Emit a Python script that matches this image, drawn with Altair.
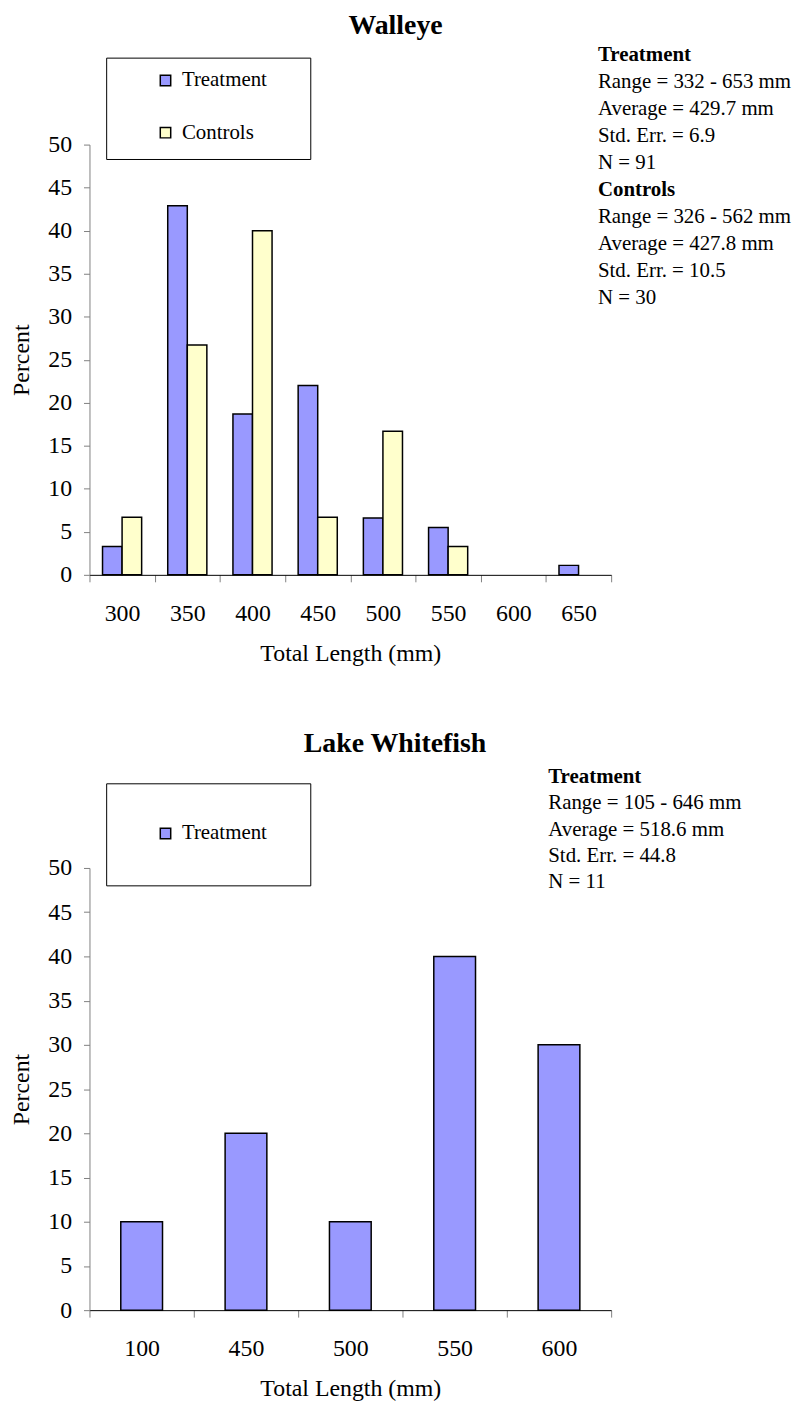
import altair as alt
import pandas as pd

FONT = "Liberation Serif"

# ---------------- data ----------------
walleye_bins = ["300", "350", "400", "450", "500", "550", "600", "650"]
walleye_series = ["Treatment", "Controls"]
walleye_treatment = [3.3, 42.9, 18.7, 22.0, 6.6, 5.5, 0.0, 1.1]
walleye_controls = [6.7, 26.7, 40.0, 6.7, 16.7, 3.3, 0.0, 0.0]
walleye_colors = ["#9999FF", "#FFFFCC"]
walleye_stats = [
    ("Treatment", ["Range = 332 - 653 mm", "Average = 429.7 mm", "Std. Err. = 6.9", "N = 91"]),
    ("Controls", ["Range = 326 - 562 mm", "Average = 427.8 mm", "Std. Err. = 10.5", "N = 30"]),
]

whitefish_bins = ["100", "450", "500", "550", "600"]
whitefish_series = ["Treatment"]
whitefish_treatment = [10, 20, 10, 40, 30]
whitefish_colors = ["#9999FF"]
whitefish_stats = [
    ("Treatment", ["Range = 105 - 646 mm", "Average = 518.6 mm", "Std. Err. = 44.8", "N = 11"]),
]

y_ticks = [0, 5, 10, 15, 20, 25, 30, 35, 40, 45, 50]

PLOT_W = 525


def long_table(bins, series, values):
    rows = []
    for s, vals in zip(series, values):
        for b, v in zip(bins, vals):
            rows.append({"bin": b, "series": s, "value": v})
    return pd.DataFrame(rows)


one = pd.DataFrame({"k": [0]})


def panel(title, bins, series, values, colors, stats, H,
          leg_box, leg_xy, stats_xy, stats_lh, title_xy, grouped):
    df = long_table(bins, series, values)
    base = alt.Chart(df).transform_filter("datum.value > 0")

    x_enc = alt.X("bin:N",
                  scale=alt.Scale(domain=bins, paddingInner=0, paddingOuter=0),
                  axis=alt.Axis(title="Total Length (mm)", labelAngle=0, tickBand="extent",
                                tickSize=7, tickColor="#808080", domainColor="#000000",
                                labelFont=FONT, titleFont=FONT,
                                labelPadding=20, titlePadding=16))
    y_enc = alt.Y("value:Q",
                  scale=alt.Scale(domain=[0, 50], nice=False),
                  axis=alt.Axis(title="Percent", values=y_ticks, tickSize=6,
                                tickColor="#808080", domainColor="#808080",
                                labelFont=FONT, titleFont=FONT,
                                labelPadding=12, titlePadding=14))
    color_enc = alt.Color("series:N",
                          scale=alt.Scale(domain=series, range=colors),
                          legend=alt.Legend(title=None, orient="none",
                                            legendX=leg_xy[0], legendY=leg_xy[1],
                                            symbolType="square", symbolSize=110,
                                            symbolStrokeColor="black", symbolStrokeWidth=1.5,
                                            labelFont=FONT, labelFontSize=21, labelColor="black",
                                            labelOffset=6, rowPadding=30.5, padding=0))
    if grouped:
        bars = base.mark_bar(stroke="black", strokeWidth=1.5).encode(
            x=x_enc,
            xOffset=alt.XOffset("series:N",
                                scale=alt.Scale(domain=series, paddingInner=0, paddingOuter=0.667)),
            y=y_enc,
            color=color_enc,
        )
    else:
        bars = base.mark_bar(stroke="black", strokeWidth=1.5,
                             width=alt.RelativeBandSize(0.4)).encode(
            x=x_enc, y=y_enc, color=color_enc)

    box = alt.Chart(one).mark_rect(fill="white", stroke="black", strokeWidth=1).encode(
        x=alt.value(leg_box[0]), x2=alt.value(leg_box[1]),
        y=alt.value(leg_box[2]), y2=alt.value(leg_box[3]))

    layers = [box, bars]
    line = 0
    for head, lines in stats:
        layers.append(alt.Chart(one).mark_text(
            align="left", baseline="alphabetic", font=FONT, fontSize=21, fontWeight="bold",
            color="black").encode(
            x=alt.value(stats_xy[0]), y=alt.value(stats_xy[1] + line * stats_lh),
            text=alt.value(head)))
        line += 1
        layers.append(alt.Chart(one).mark_text(
            align="left", baseline="alphabetic", font=FONT, fontSize=21,
            lineHeight=stats_lh, color="black").encode(
            x=alt.value(stats_xy[0]), y=alt.value(stats_xy[1] + line * stats_lh),
            text=alt.value(lines)))
        line += len(lines)

    layers.append(alt.Chart(one).mark_text(
        align="center", baseline="alphabetic", font=FONT, fontSize=28, fontWeight="bold",
        color="black").encode(
        x=alt.value(title_xy[0]), y=alt.value(title_xy[1]), text=alt.value(title)))

    return alt.layer(*layers).properties(width=PLOT_W, height=H)


top = panel("Walleye", walleye_bins, walleye_series, [walleye_treatment, walleye_controls],
            walleye_colors, walleye_stats, 433,
            leg_box=(17.3, 222.7, -87, 15), leg_xy=(66, -75), stats_xy=(511.7, -84.3),
            stats_lh=27.2, title_xy=(308, -111), grouped=True)

bottom = panel("Lake Whitefish", whitefish_bins, whitefish_series, [whitefish_treatment],
               whitefish_colors, whitefish_stats, 445,
               leg_box=(17.3, 222.7, -84.7, 18), leg_xy=(66, -45.2), stats_xy=(461.7, -85.3),
               stats_lh=26.4, title_xy=(307.5, -116.3), grouped=False)

chart = alt.vconcat(top, bottom, spacing=65).resolve_scale(
    color="independent", x="independent", y="independent", xOffset="independent"
).resolve_legend(color="independent").properties(
    padding={"left": 2, "top": 0, "right": 0, "bottom": 0},
    background="white",
).configure(font=FONT).configure_view(stroke=None).configure_axis(
    grid=False, labelFont=FONT, labelFontSize=24, labelColor="black",
    titleFont=FONT, titleFontSize=24, titleFontWeight="normal", titleColor="black",
).configure_legend(labelFont=FONT)

chart.save("out.html", embed_options={"renderer": "svg", "actions": False})
